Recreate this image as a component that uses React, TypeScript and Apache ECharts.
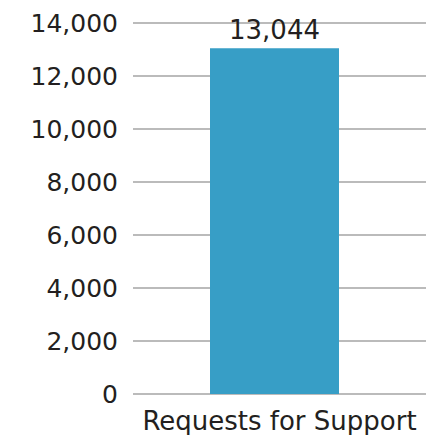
import React, { useEffect, useRef } from "react";
import * as echarts from "echarts";

const categories = ["Requests for Support"];
const values = [13044];
const yTicks = [0, 2000, 4000, 6000, 8000, 10000, 12000, 14000];

const FONT = "'DejaVu Sans', sans-serif";
const fmt = (v: number) => v.toLocaleString("en-US");

export default function App() {
  const ref = useRef<HTMLDivElement>(null);
  useEffect(() => {
    const chart = echarts.init(ref.current!, undefined, { renderer: "svg" });
    chart.setOption({
      animation: false,
      grid: { left: 133, right: 9, top: 23, bottom: 41, containLabel: false },
      xAxis: {
        type: "category",
        data: categories,
        axisLine: { show: false },
        axisTick: { show: false },
        axisLabel: { color: "#231f20", fontSize: 26, fontFamily: FONT, margin: 14 },
      },
      yAxis: {
        type: "value",
        min: yTicks[0],
        max: yTicks[yTicks.length - 1],
        interval: 2000,
        axisLine: { show: false },
        axisTick: { show: false },
        splitLine: { lineStyle: { color: "#bbbbbb", width: 2 } },
        axisLabel: {
          color: "#231f20",
          fontSize: 25,
          fontFamily: FONT,
          margin: 15,
          formatter: (v: number) => fmt(v),
        },
      },
      series: [
        {
          type: "bar",
          data: values,
          barWidth: 129,
          barGap: "0%",
          itemStyle: { color: "#379ec6" },
          label: {
            show: true,
            position: "top",
            distance: 5,
            color: "#231f20",
            fontSize: 26,
            fontFamily: FONT,
            formatter: (p: any) => fmt(p.value),
          },
        },
        {
          type: "bar",
          data: ["-"],
          barWidth: 10,
          itemStyle: { color: "transparent" },
        },
      ],
    });
    return () => chart.dispose();
  }, []);
  return <div ref={ref} style={{ width: 435, height: 435, position: "absolute", left: 0, top: 0 }} />;
}
